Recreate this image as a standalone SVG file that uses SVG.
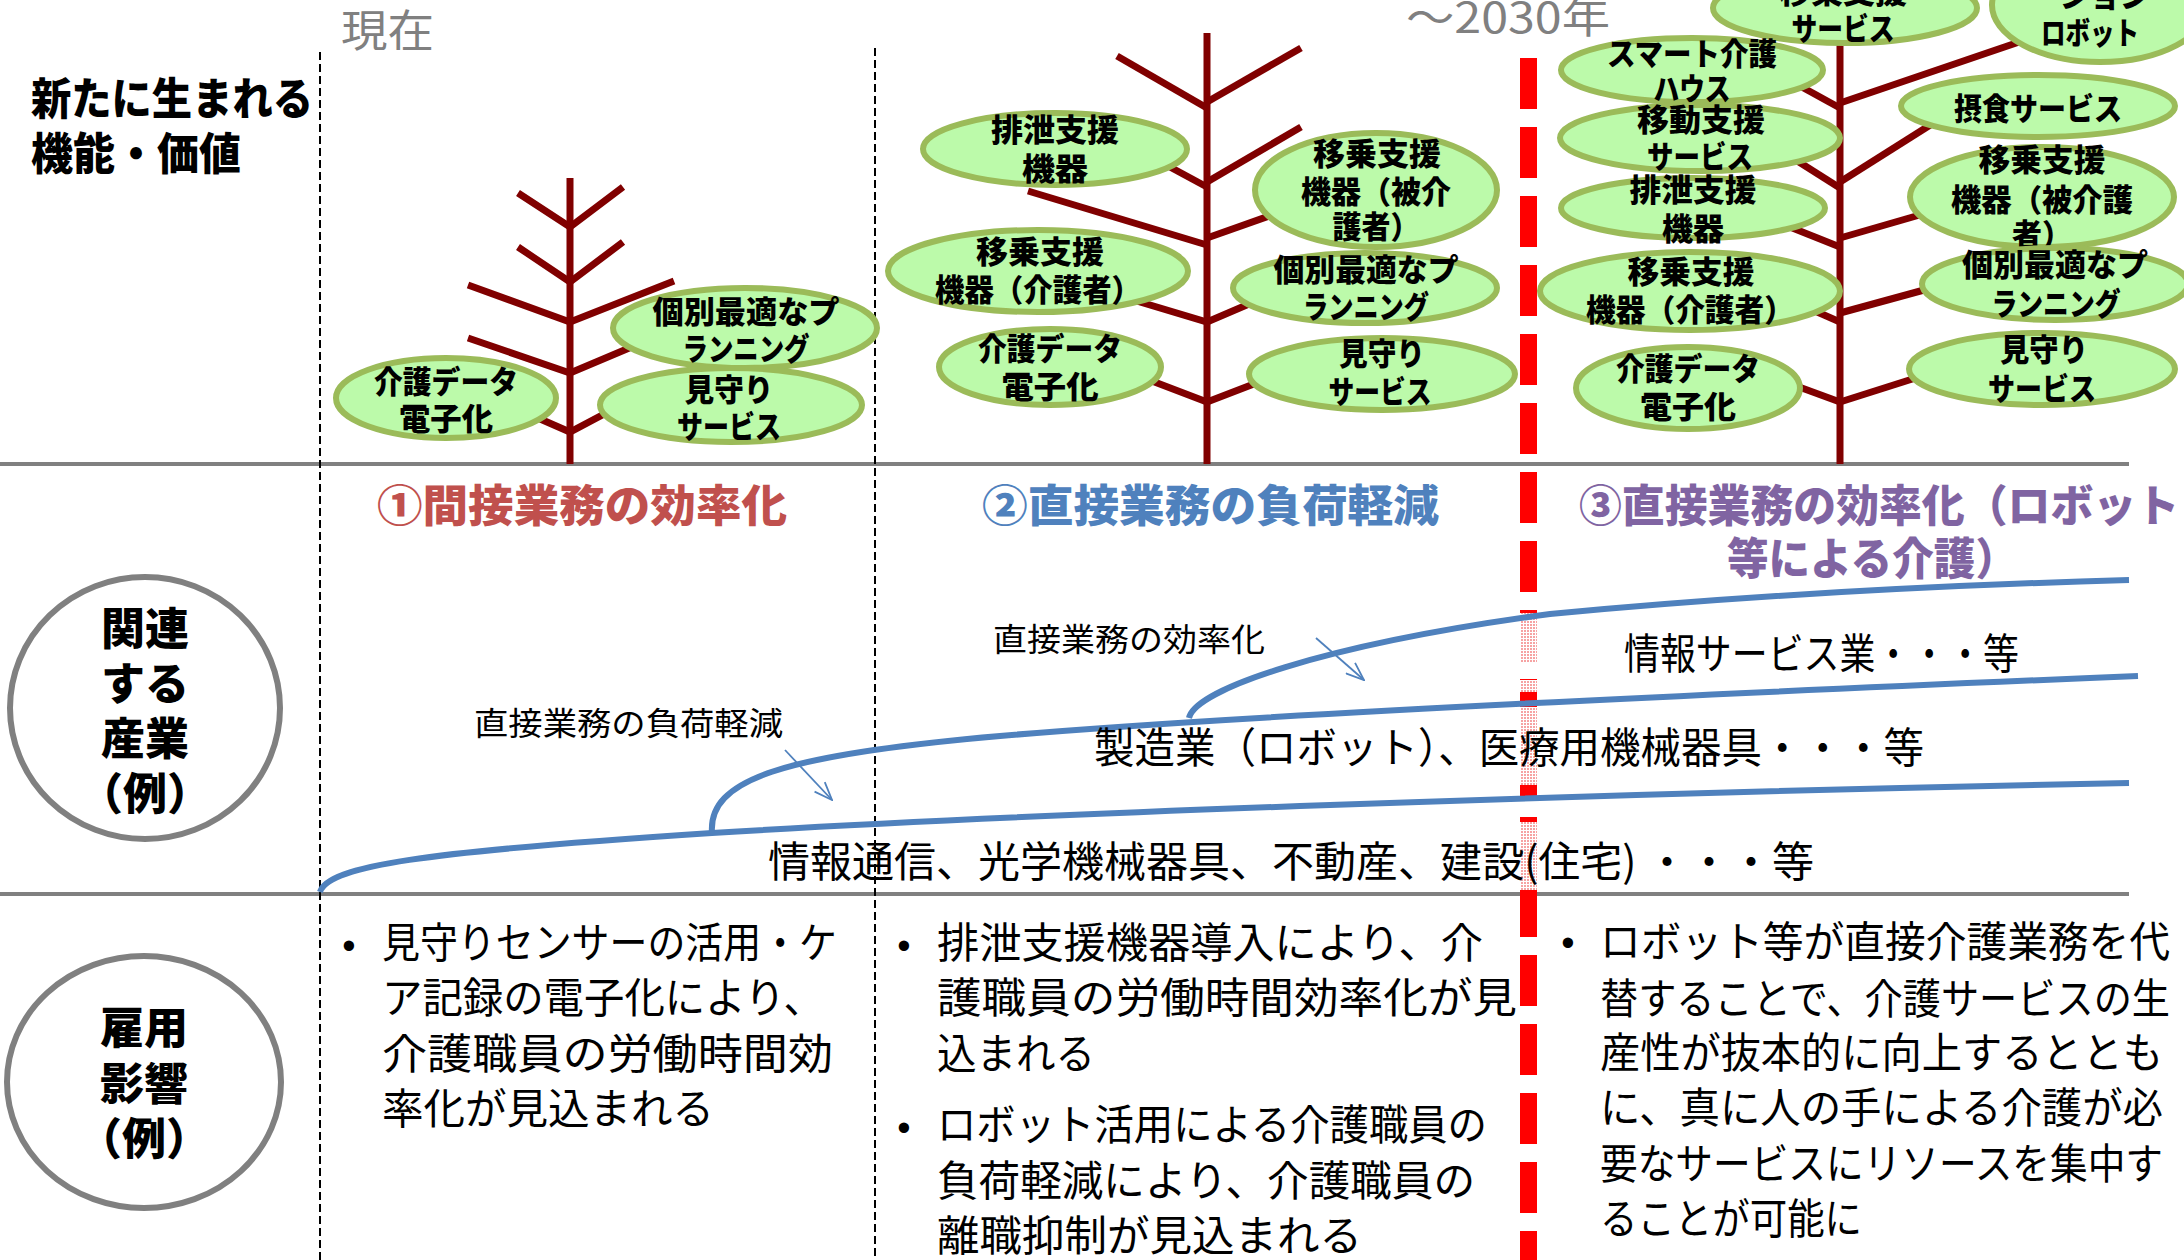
<svg xmlns="http://www.w3.org/2000/svg" width="2184" height="1260" viewBox="0 0 2184 1260">
  <style>
    .jp { font-family: "Noto Sans CJK JP", "Noto Sans", sans-serif; }
    .b { font-weight: 900; }
    .leaf ellipse { fill: #BCFAAA; stroke: #9BBB59; stroke-width: 6; }
    .leaf text { font-family: "Noto Sans CJK JP", sans-serif; font-weight: 900; font-size: 31px; fill: #000; text-anchor: middle; }
    .branch { stroke: #800000; stroke-width: 7; fill: none; stroke-linecap: butt; }
    .grid { stroke: #808080; stroke-width: 4; }
    .vdash { stroke: #000; stroke-width: 2; stroke-dasharray: 8 4; }
    .curve { fill: none; stroke: #4F81BD; stroke-width: 6; }
    .lbl { font-family: "Noto Sans CJK JP", sans-serif; fill: #000; }
    .ring { fill: #fff; stroke: #808080; stroke-width: 6; }
    .ring-t { font-family: "Noto Sans CJK JP", sans-serif; font-weight: 900; font-size: 44px; text-anchor: middle; }
    .body { font-family: "Noto Sans CJK JP", sans-serif; font-size: 42px; fill: #000; }
    .bul { font-family: "Liberation Sans", sans-serif; font-size: 38px; text-anchor: middle; }
  </style>
  <defs>
    <pattern id="pinkdots" width="3" height="3" patternUnits="userSpaceOnUse">
      <rect width="3" height="3" fill="#ffffff"/>
      <rect width="2" height="2" fill="#F6A3A3"/>
    </pattern>
    <marker id="openArrow" viewBox="0 0 20 16" refX="19" refY="8" markerWidth="20" markerHeight="16" markerUnits="userSpaceOnUse" orient="auto">
      <path d="M1,1 L19,8 L1,15" fill="none" stroke="#4F81BD" stroke-width="1.8"/>
    </marker>
  </defs>

  <rect width="2184" height="1260" fill="#ffffff"/>

  <!-- row separators and period dividers -->
  <g id="grid">
    <line class="grid" x1="0" y1="464" x2="2129" y2="464"/>
    <line class="grid" x1="0" y1="894" x2="2129" y2="894"/>
    <line class="vdash" x1="320" y1="52" x2="320" y2="1260"/>
    <line class="vdash" x1="875" y1="48" x2="875" y2="1260"/>
    <line x1="1528.5" y1="58" x2="1528.5" y2="1260" stroke="#FF0000" stroke-width="17" stroke-dasharray="51 18"/>
    <rect x="1520" y="613" width="17" height="49" fill="url(#pinkdots)"/>
    <rect x="1520" y="680" width="17" height="12" fill="url(#pinkdots)"/>
    <rect x="1520" y="707" width="17" height="78" fill="url(#pinkdots)"/>
    <rect x="1520" y="822" width="17" height="68" fill="url(#pinkdots)"/>
  </g>

  <!-- period labels -->
  <g id="period-labels">
    <text class="jp" x="341" y="47" font-size="44" fill="#808080" textLength="93" lengthAdjust="spacingAndGlyphs">現在</text>
    <text class="jp" x="1406" y="33" font-size="42" fill="#808080" textLength="204" lengthAdjust="spacingAndGlyphs">～2030年</text>
  </g>

  <!-- row header: new functions and values -->
  <g id="row-functions">
    <text class="jp b" x="31" y="115" font-size="44" textLength="282" lengthAdjust="spacingAndGlyphs">新たに生まれる</text>
    <text class="jp b" x="31" y="170" font-size="44" textLength="210" lengthAdjust="spacingAndGlyphs">機能・価値</text>
  </g>

  <!-- tree stems and branches -->
  <g id="connectors">
    <g id="tree1-branches">
      <line class="branch" x1="570" y1="178" x2="570" y2="464"/>
      <polyline class="branch" points="518,193 570,227 623,187"/>
      <polyline class="branch" points="518,247 570,282 623,242"/>
      <polyline class="branch" points="468,285 570,322 674,281"/>
      <polyline class="branch" points="468,338 570,373 660,335"/>
      <polyline class="branch" points="515,408 570,432 640,395"/>
    </g>
    <g id="tree2-branches">
      <line class="branch" x1="1207" y1="33" x2="1207" y2="464"/>
      <polyline class="branch" points="1117,56 1207,108"/>
      <polyline class="branch" points="1207,102 1301,48"/>
      <polyline class="branch" points="1120,140 1207,187"/>
      <polyline class="branch" points="1207,182 1301,127"/>
      <polyline class="branch" points="1028,191 1207,245"/>
      <polyline class="branch" points="1207,238 1300,205"/>
      <polyline class="branch" points="1100,290 1207,322 1270,295"/>
      <polyline class="branch" points="1110,365 1207,402 1290,370"/>
    </g>
    <g id="tree3-branches">
      <line class="branch" x1="1840" y1="43" x2="1840" y2="464"/>
      <polyline class="branch" points="1780,75 1840,108"/>
      <polyline class="branch" points="1840,103 2025,40"/>
      <polyline class="branch" points="1780,150 1840,188"/>
      <polyline class="branch" points="1840,182 1935,122"/>
      <polyline class="branch" points="1760,215 1840,247"/>
      <polyline class="branch" points="1840,238 1930,212"/>
      <polyline class="branch" points="1790,300 1840,322"/>
      <polyline class="branch" points="1840,313 1935,287"/>
      <polyline class="branch" points="1780,380 1840,402"/>
      <polyline class="branch" points="1840,402 1925,375"/>
    </g>
  </g>

  <!-- tree 1: present -->
  <g id="t1-planning" class="leaf">
    <ellipse cx="745" cy="328" rx="132" ry="40"/>
    <text x="746" y="323" textLength="187" lengthAdjust="spacingAndGlyphs">個別最適なプ</text>
    <text x="746" y="360" textLength="127" lengthAdjust="spacingAndGlyphs">ランニング</text>
  </g>
  <g id="t1-watch" class="leaf">
    <ellipse cx="731" cy="405" rx="131" ry="37"/>
    <text x="729" y="401" textLength="89" lengthAdjust="spacingAndGlyphs">見守り</text>
    <text x="729" y="438" textLength="104" lengthAdjust="spacingAndGlyphs">サービス</text>
  </g>
  <g id="t1-data" class="leaf">
    <ellipse cx="446" cy="398" rx="110" ry="40"/>
    <text x="446" y="393" textLength="144" lengthAdjust="spacingAndGlyphs">介護データ</text>
    <text x="446" y="430" textLength="94" lengthAdjust="spacingAndGlyphs">電子化</text>
  </g>

  <!-- tree 2 -->
  <g id="t2-excretion" class="leaf">
    <ellipse cx="1055" cy="149" rx="132" ry="36"/>
    <text x="1055" y="141" textLength="128" lengthAdjust="spacingAndGlyphs">排泄支援</text>
    <text x="1055" y="180" textLength="66" lengthAdjust="spacingAndGlyphs">機器</text>
  </g>
  <g id="t2-transfer-receiver" class="leaf">
    <ellipse cx="1376" cy="190" rx="121" ry="57"/>
    <text x="1377" y="165" textLength="128" lengthAdjust="spacingAndGlyphs">移乗支援</text>
    <text x="1376" y="203" textLength="150" lengthAdjust="spacingAndGlyphs">機器（被介</text>
    <text x="1376" y="238" textLength="87" lengthAdjust="spacingAndGlyphs">護者）</text>
  </g>
  <g id="t2-transfer-carer" class="leaf">
    <ellipse cx="1038" cy="271" rx="150" ry="41"/>
    <text x="1040" y="263" textLength="128" lengthAdjust="spacingAndGlyphs">移乗支援</text>
    <text x="1038" y="301" textLength="206" lengthAdjust="spacingAndGlyphs">機器（介護者）</text>
  </g>
  <g id="t2-planning" class="leaf">
    <ellipse cx="1365" cy="288" rx="132" ry="35"/>
    <text x="1366" y="281" textLength="185" lengthAdjust="spacingAndGlyphs">個別最適なプ</text>
    <text x="1366" y="318" textLength="126" lengthAdjust="spacingAndGlyphs">ランニング</text>
  </g>
  <g id="t2-data" class="leaf">
    <ellipse cx="1050" cy="367" rx="111" ry="38"/>
    <text x="1050" y="360" textLength="144" lengthAdjust="spacingAndGlyphs">介護データ</text>
    <text x="1050" y="398" textLength="97" lengthAdjust="spacingAndGlyphs">電子化</text>
  </g>
  <g id="t2-watch" class="leaf">
    <ellipse cx="1382" cy="374" rx="133" ry="36"/>
    <text x="1382" y="365" textLength="86" lengthAdjust="spacingAndGlyphs">見守り</text>
    <text x="1380" y="403" textLength="103" lengthAdjust="spacingAndGlyphs">サービス</text>
  </g>

  <!-- tree 3: toward 2030 -->
  <g id="t3-top-service" class="leaf">
    <ellipse cx="1845" cy="8" rx="132" ry="35"/>
    <text x="1843" y="3" textLength="128" lengthAdjust="spacingAndGlyphs">移乗支援</text>
    <text x="1843" y="40" textLength="103" lengthAdjust="spacingAndGlyphs">サービス</text>
  </g>
  <g id="t3-robot" class="leaf">
    <ellipse cx="2100" cy="5" rx="108" ry="57"/>
    <text x="2090" y="-30" textLength="150" lengthAdjust="spacingAndGlyphs">コミュニケ</text>
    <text x="2090" y="7" textLength="120" lengthAdjust="spacingAndGlyphs">ーション</text>
    <text x="2090" y="44" textLength="98" lengthAdjust="spacingAndGlyphs">ロボット</text>
  </g>
  <g id="t3-smart-house" class="leaf">
    <ellipse cx="1692" cy="70" rx="131" ry="32"/>
    <text x="1692" y="65" textLength="170" lengthAdjust="spacingAndGlyphs">スマート介護</text>
    <text x="1692" y="100" textLength="77" lengthAdjust="spacingAndGlyphs">ハウス</text>
  </g>
  <g id="t3-mobility" class="leaf">
    <ellipse cx="1700" cy="138" rx="140" ry="33"/>
    <text x="1701" y="131" textLength="128" lengthAdjust="spacingAndGlyphs">移動支援</text>
    <text x="1700" y="168" textLength="106" lengthAdjust="spacingAndGlyphs">サービス</text>
  </g>
  <g id="t3-excretion" class="leaf">
    <ellipse cx="1693" cy="208" rx="132" ry="30"/>
    <text x="1693" y="201" textLength="127" lengthAdjust="spacingAndGlyphs">排泄支援</text>
    <text x="1693" y="240" textLength="62" lengthAdjust="spacingAndGlyphs">機器</text>
  </g>
  <g id="t3-transfer-carer" class="leaf">
    <ellipse cx="1690" cy="291" rx="150" ry="39"/>
    <text x="1691" y="283" textLength="127" lengthAdjust="spacingAndGlyphs">移乗支援</text>
    <text x="1690" y="321" textLength="208" lengthAdjust="spacingAndGlyphs">機器（介護者）</text>
  </g>
  <g id="t3-data" class="leaf">
    <ellipse cx="1688" cy="388" rx="112" ry="41"/>
    <text x="1688" y="380" textLength="144" lengthAdjust="spacingAndGlyphs">介護データ</text>
    <text x="1688" y="418" textLength="96" lengthAdjust="spacingAndGlyphs">電子化</text>
  </g>
  <g id="t3-meal" class="leaf">
    <ellipse cx="2038" cy="106" rx="137" ry="31"/>
    <text x="2038" y="120" textLength="168" lengthAdjust="spacingAndGlyphs">摂食サービス</text>
  </g>
  <g id="t3-transfer-receiver" class="leaf">
    <ellipse cx="2042" cy="197" rx="132" ry="50"/>
    <text x="2042" y="171" textLength="127" lengthAdjust="spacingAndGlyphs">移乗支援</text>
    <text x="2042" y="211" textLength="182" lengthAdjust="spacingAndGlyphs">機器（被介護</text>
    <text x="2042" y="246" textLength="60" lengthAdjust="spacingAndGlyphs">者）</text>
  </g>
  <g id="t3-planning" class="leaf">
    <ellipse cx="2055" cy="284" rx="133" ry="36"/>
    <text x="2055" y="276" textLength="186" lengthAdjust="spacingAndGlyphs">個別最適なプ</text>
    <text x="2056" y="315" textLength="129" lengthAdjust="spacingAndGlyphs">ランニング</text>
  </g>
  <g id="t3-watch" class="leaf">
    <ellipse cx="2042" cy="369" rx="133" ry="36"/>
    <text x="2044" y="361" textLength="88" lengthAdjust="spacingAndGlyphs">見守り</text>
    <text x="2042" y="400" textLength="108" lengthAdjust="spacingAndGlyphs">サービス</text>
  </g>

  <!-- phase headings -->
  <g id="phase-headings">
    <text class="jp b" x="377" y="522" font-size="44" fill="#C0504D" textLength="410" lengthAdjust="spacingAndGlyphs">①間接業務の効率化</text>
    <text class="jp b" x="982" y="522" font-size="44" fill="#4F81BD" textLength="457" lengthAdjust="spacingAndGlyphs">②直接業務の負荷軽減</text>
    <text class="jp b" x="1579" y="522" font-size="44" fill="#8064A2" textLength="600" lengthAdjust="spacingAndGlyphs">③直接業務の効率化（ロボット</text>
    <text class="jp b" x="1727" y="575" font-size="44" fill="#8064A2" textLength="290" lengthAdjust="spacingAndGlyphs">等による介護）</text>
  </g>

  <!-- industry growth curves -->
  <g id="industry-curves">
    <path class="curve" d="M320,892 C328,866 420,852 712,833 C1000,815 1600,793 2129,783"/>
    <path class="curve" d="M712,833 C708,780 780,755 1000,736 C1250,714 1750,692 2138,676"/>
    <path class="curve" d="M1189,718 C1195,690 1320,645 1550,614 C1750,595 1950,585 2129,580"/>
    <line x1="785" y1="750" x2="832" y2="800" stroke="#4F81BD" stroke-width="1.8" marker-end="url(#openArrow)"/>
    <line x1="1316" y1="638" x2="1364" y2="680" stroke="#4F81BD" stroke-width="1.8" marker-end="url(#openArrow)"/>
  </g>

  <g id="curve-labels">
    <text class="lbl" x="474" y="735" font-size="32" textLength="309" lengthAdjust="spacingAndGlyphs">直接業務の負荷軽減</text>
    <text class="lbl" x="993" y="651" font-size="32" textLength="272" lengthAdjust="spacingAndGlyphs">直接業務の効率化</text>
  </g>

  <g id="industries">
    <text class="body" x="1624" y="669" textLength="395" lengthAdjust="spacingAndGlyphs">情報サービス業・・・等</text>
    <text class="body" x="1094" y="763" textLength="830" lengthAdjust="spacingAndGlyphs">製造業（ロボット）、医療用機械器具・・・等</text>
    <text class="body" x="768" y="877" textLength="1046" lengthAdjust="spacingAndGlyphs">情報通信、光学機械器具、不動産、建設(住宅) ・・・等</text>
  </g>

  <!-- row header: related industries -->
  <g id="row-industries">
    <ellipse class="ring" cx="145" cy="708" rx="135" ry="131"/>
    <text class="ring-t" x="145" y="645">関連</text>
    <text class="ring-t" x="145" y="700">する</text>
    <text class="ring-t" x="145" y="755">産業</text>
    <text class="ring-t" x="145" y="810">（例）</text>
  </g>

  <!-- row header: employment impact -->
  <g id="row-employment">
    <ellipse class="ring" cx="144" cy="1082" rx="137" ry="126"/>
    <text class="ring-t" x="144" y="1044">雇用</text>
    <text class="ring-t" x="144" y="1100">影響</text>
    <text class="ring-t" x="144" y="1155">（例）</text>
  </g>

  <!-- employment impact bullets -->
  <g id="impact-1">
    <text class="bul" x="349" y="959">•</text>
    <text class="body" x="382" y="958" textLength="455" lengthAdjust="spacingAndGlyphs">見守りセンサーの活用・ケ</text>
    <text class="body" x="382" y="1013" textLength="442" lengthAdjust="spacingAndGlyphs">ア記録の電子化により、</text>
    <text class="body" x="382" y="1069" textLength="451" lengthAdjust="spacingAndGlyphs">介護職員の労働時間効</text>
    <text class="body" x="382" y="1124" textLength="332" lengthAdjust="spacingAndGlyphs">率化が見込まれる</text>
  </g>
  <g id="impact-2">
    <text class="bul" x="904" y="959">•</text>
    <text class="body" x="937" y="958" textLength="546" lengthAdjust="spacingAndGlyphs">排泄支援機器導入により、介</text>
    <text class="body" x="937" y="1013" textLength="580" lengthAdjust="spacingAndGlyphs">護職員の労働時間効率化が見</text>
    <text class="body" x="937" y="1069" textLength="158" lengthAdjust="spacingAndGlyphs">込まれる</text>
    <text class="bul" x="904" y="1141">•</text>
    <text class="body" x="937" y="1140" textLength="550" lengthAdjust="spacingAndGlyphs">ロボット活用による介護職員の</text>
    <text class="body" x="937" y="1196" textLength="538" lengthAdjust="spacingAndGlyphs">負荷軽減により、介護職員の</text>
    <text class="body" x="937" y="1251" textLength="425" lengthAdjust="spacingAndGlyphs">離職抑制が見込まれる</text>
  </g>
  <g id="impact-3">
    <text class="bul" x="1568" y="956">•</text>
    <text class="body" x="1600" y="957" textLength="570" lengthAdjust="spacingAndGlyphs">ロボット等が直接介護業務を代</text>
    <text class="body" x="1600" y="1014" textLength="570" lengthAdjust="spacingAndGlyphs">替することで、介護サービスの生</text>
    <text class="body" x="1600" y="1068" textLength="563" lengthAdjust="spacingAndGlyphs">産性が抜本的に向上するととも</text>
    <text class="body" x="1600" y="1123" textLength="563" lengthAdjust="spacingAndGlyphs">に、真に人の手による介護が必</text>
    <text class="body" x="1600" y="1179" textLength="563" lengthAdjust="spacingAndGlyphs">要なサービスにリソースを集中す</text>
    <text class="body" x="1600" y="1234" textLength="262" lengthAdjust="spacingAndGlyphs">ることが可能に</text>
  </g>
</svg>
